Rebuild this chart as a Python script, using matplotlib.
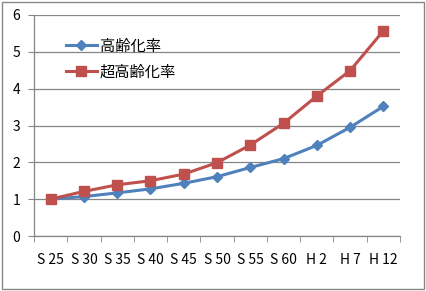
import matplotlib
matplotlib.use("Agg")
import matplotlib.pyplot as plt
import numpy as np
from matplotlib.patches import Rectangle

plt.rcParams['font.family'] = ['Noto Sans CJK JP', 'DejaVu Sans']

labels = ["S 25", "S 30", "S 35", "S 40", "S 45", "S 50", "S 55", "S 60", "H 2", "H 7", "H 12"]
aging = [1.0, 1.07, 1.17, 1.28, 1.43, 1.61, 1.86, 2.1, 2.46, 2.95, 3.52]
super_aging = [1.0, 1.21, 1.39, 1.5, 1.68, 1.99, 2.47, 3.06, 3.8, 4.49, 5.57]

fig = plt.figure(figsize=(4.26, 2.91), dpi=100)
ax = fig.add_axes([34 / 426, 55 / 291, 366 / 426, 221 / 291])

x = np.arange(len(labels))
ax.plot(x, aging, color="#4F81BD", lw=2.2, marker="D", ms=5, label="高齢化率", zorder=3)
ax.plot(x, super_aging, color="#C0504D", lw=2.2, marker="s", ms=7, label="超高齢化率", zorder=3)

ax.set_xlim(-0.5, len(labels) - 0.5)
ax.set_ylim(0, 6)
ax.set_yticks(range(7))
ax.set_xticks(x)
ax.set_xticklabels(labels)
ax.set_xticks(np.arange(-0.5, len(labels)), minor=True)
ax.tick_params(axis="x", which="major", length=0, pad=12, labelsize=10)
ax.tick_params(axis="x", which="minor", length=4, color="#868686", direction="out")
ax.tick_params(axis="y", length=4, color="#868686", labelsize=10, pad=6)
ax.yaxis.grid(True, color="#868686", lw=0.9)
ax.set_axisbelow(True)
for s in ["top", "right"]:
    ax.spines[s].set_visible(False)
for s in ["left", "bottom"]:
    ax.spines[s].set_color("#868686")
    ax.spines[s].set_linewidth(0.9)

ax.legend(loc="upper left", bbox_to_anchor=(0.05, 0.96), frameon=False,
          fontsize=11, handlelength=2.0, handletextpad=0.2, labelspacing=0.6)

fig.patches.append(Rectangle((2 / 426, 2 / 291), 422 / 426, 287 / 291, transform=fig.transFigure,
                             fill=False, edgecolor="#868686", lw=1))

fig.savefig("out.png", dpi=100)
